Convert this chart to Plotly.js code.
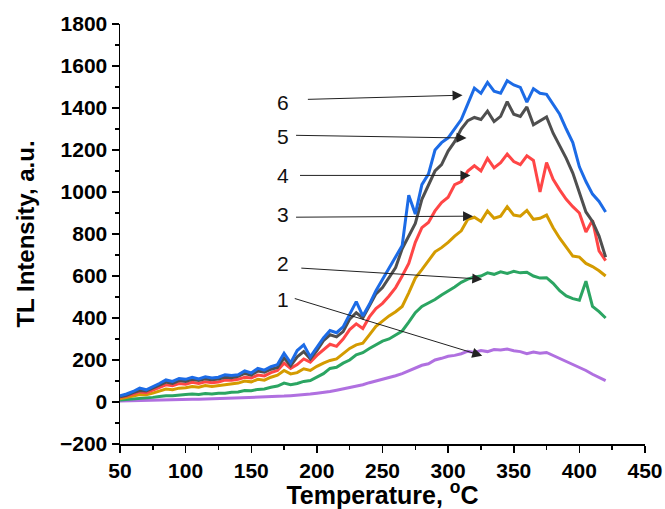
<!DOCTYPE html>
<html>
<head>
<meta charset="utf-8">
<script src="https://cdn.plot.ly/plotly-3.0.1.min.js"></script>
<style>html,body{margin:0;padding:0;background:#fff;}#chart{width:665px;height:509px;}</style>
</head>
<body>
<div id="chart"></div>
<script>
const temperature = [50,55,60,65,70,75,80,85,90,95,100,105,110,115,120,125,130,135,140,145,150,155,160,165,170,175,180,185,190,195,200,205,210,215,220,225,230,235,240,245,250,255,260,265,270,275,280,285,290,295,300,305,310,315,320,325,330,335,340,345,350,355,360,365,370,375,380,385,390,395,400,405,410,415,420];

const curve1 = [5,6,7,8,8,9,10,10,11,12,12,13,13,14,15,16,
  16,18,19,20,21,22,22,24,26,28,30,32,36,38,42,45,50,56,62,70,76,82,92,100,108,115,125,135,148,160,175,182,
  200,208,218,222,230,242,236,245,240,250,248,252,244,240,230,238,232,236,222,208,192,180,165,150,132,118,102];
const curve2 = [10,12,15,18,20,22,26,30,30,34,36,38,36,40,38,42,
  42,46,48,55,54,60,62,70,76,90,82,88,98,102,118,135,160,165,185,200,225,235,255,272,290,300,318,338,380,425,455,470,
  488,510,528,548,570,585,595,600,615,608,620,612,622,615,618,600,590,592,565,530,505,492,485,575,455,430,400];
const curve3 = [15,20,28,36,34,42,52,62,58,66,68,74,70,78,74,78,
  82,86,90,100,96,108,104,118,128,150,134,140,158,150,170,185,198,205,230,255,272,280,320,360,385,410,430,455,520,590,630,675,
  715,735,760,790,815,870,880,860,910,875,885,930,890,885,912,870,875,890,830,780,735,695,690,660,645,625,600];
const curve4 = [22,28,38,48,44,56,70,82,78,88,85,94,88,96,92,95,
  104,104,108,118,114,128,124,140,150,185,160,178,205,190,222,250,275,265,300,345,372,350,405,445,470,505,545,600,660,760,830,855,
  910,950,975,1035,1050,1100,1125,1100,1160,1115,1140,1180,1145,1130,1172,1150,1000,1140,1060,1010,965,930,900,810,865,720,673];
const curve5 = [25,32,45,55,52,65,80,95,88,102,98,108,102,110,106,110,
  118,116,122,136,128,148,142,156,165,210,172,215,240,205,245,292,320,310,335,395,425,400,455,515,545,595,640,730,790,850,965,1030,
  1100,1130,1195,1240,1300,1340,1355,1345,1385,1335,1360,1430,1370,1360,1405,1320,1340,1357,1280,1220,1160,1090,1000,905,860,790,690];
const curve6 = [30,38,50,66,58,72,88,105,98,112,108,118,110,120,114,118,
  130,126,130,148,138,160,152,168,178,232,186,245,272,215,260,305,340,330,358,415,478,410,465,530,585,635,690,745,985,895,1035,1085,
  1200,1235,1258,1300,1345,1420,1495,1470,1522,1480,1470,1530,1510,1498,1428,1492,1470,1465,1420,1370,1300,1235,1120,1050,990,955,905];

const seriesData = [curve1, curve2, curve3, curve4, curve5, curve6];
const seriesColors = ['#b070e0', '#2ba562', '#d49b00', '#ff4646', '#4f4f4f', '#1c6be6'];

const curveLabels = ['1', '2', '3', '4', '5', '6'];
const labelX = [174, 174, 174, 174, 174, 174];
const labelY = [487, 659, 893, 1079, 1265, 1427];
const arrowTailX = [182, 187, 183, 186, 183, 192];
const arrowTailY = [495, 638, 880, 1079, 1270, 1441];
const arrowTipX = [326, 326, 319, 317, 314, 311];
const arrowTipY = [220, 585, 885, 1079, 1257, 1461];

const xTicks = [50,100,150,200,250,300,350,400,450];
const yTicks = [-200,0,200,400,600,800,1000,1200,1400,1600,1800];

const traces = seriesData.map((vals, k) => ({
  x: temperature, y: vals, type: 'scatter', mode: 'lines',
  line: {color: seriesColors[k], width: 3}, hoverinfo: 'skip', showlegend: false
}));

const annotations = [];
for (let k = 0; k < curveLabels.length; k++) {
  annotations.push({
    x: labelX[k], y: labelY[k], xref: 'x', yref: 'y', text: curveLabels[k], showarrow: false,
    font: {family: 'Liberation Sans, Arial, sans-serif', size: 21, color: '#111'}
  });
  annotations.push({
    x: arrowTipX[k], y: arrowTipY[k], xref: 'x', yref: 'y',
    ax: arrowTailX[k], ay: arrowTailY[k], axref: 'x', ayref: 'y',
    text: '', showarrow: true, arrowhead: 2, arrowsize: 2, arrowwidth: 1, arrowcolor: '#222', standoff: 0
  });
}

const tickFont = {family: 'Liberation Sans, Arial, sans-serif', size: 21, color: '#000', weight: 'bold'};
const layout = {
  width: 665, height: 509,
  margin: {l: 120, r: 20, t: 24, b: 65},
  paper_bgcolor: '#fff', plot_bgcolor: '#fff',
  xaxis: {
    range: [50, 450], tickvals: xTicks, ticks: 'outside', ticklen: 7, tickwidth: 1.5, tickcolor: '#000',
    showline: true, linecolor: '#000', linewidth: 1.5, showgrid: false, zeroline: false,
    tickfont: tickFont,
    minor: {dtick: 25, ticks: 'outside', ticklen: 4, tickwidth: 1.5, tickcolor: '#000', showgrid: false},
    title: {text: 'Temperature, <sup>o</sup>C', font: {family: 'Liberation Sans, Arial, sans-serif', size: 25, color: '#000', weight: 'bold'}, standoff: 7}
  },
  yaxis: {
    range: [-200, 1800], tickvals: yTicks, ticks: 'outside', ticklen: 7, tickwidth: 1.5, tickcolor: '#000',
    showline: true, linecolor: '#000', linewidth: 1.5, showgrid: false, zeroline: false,
    tickfont: tickFont,
    minor: {dtick: 100, ticks: 'outside', ticklen: 4, tickwidth: 1.5, tickcolor: '#000', showgrid: false},
    title: {text: 'TL Intensity, a.u.', font: {family: 'Liberation Sans, Arial, sans-serif', size: 24, color: '#000', weight: 'bold'}, standoff: 18}
  },
  annotations: annotations
};

Plotly.newPlot('chart', traces, layout, {displayModeBar: false, staticPlot: true});
</script>
</body>
</html>
